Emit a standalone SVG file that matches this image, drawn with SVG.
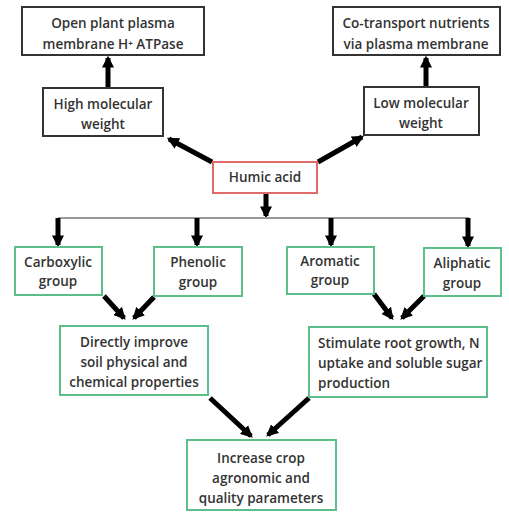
<svg xmlns="http://www.w3.org/2000/svg" width="509" height="512" viewBox="0 0 509 512">
<style>
.bk{fill:#fff;stroke:#333;stroke-width:2}
.gr{fill:#fff;stroke:#5cbf8a;stroke-width:2}
.rd{fill:#fff;stroke:#e06a6a;stroke-width:2}
text{font-family:"Open Sans","Liberation Sans",sans-serif;font-size:13.5px;font-weight:600;fill:#333;text-anchor:middle}
.ar{stroke:#000;stroke-width:5;fill:none;marker-end:url(#ah)}
</style>
<defs>
<marker id="ah" viewBox="0 0 10 10" refX="8" refY="5" markerWidth="2.4" markerHeight="2.4" orient="auto" markerUnits="strokeWidth">
<path d="M0,0 L10,5 L0,10 z" fill="#000"/>
</marker>
</defs>
<rect width="509" height="512" fill="#fff"/>
<g id="connectors">
<line class="ar" x1="108" y1="88" x2="108" y2="58"/>
<line class="ar" x1="426" y1="87" x2="426" y2="58"/>
<line class="ar" x1="212" y1="162" x2="169" y2="139"/>
<line class="ar" x1="318" y1="162" x2="362" y2="137"/>
<line class="ar" x1="266" y1="193" x2="266" y2="216"/>
<line x1="58" y1="218" x2="469" y2="218" stroke="#999" stroke-width="2"/>
<line class="ar" x1="58" y1="218" x2="58" y2="245"/>
<line class="ar" x1="197" y1="218" x2="197" y2="245"/>
<line class="ar" x1="331" y1="218" x2="331" y2="245"/>
<line class="ar" x1="468" y1="218" x2="468" y2="246"/>
<line class="ar" x1="104" y1="296" x2="124" y2="318"/>
<line class="ar" x1="154" y1="297" x2="134" y2="318"/>
<line class="ar" x1="374" y1="294" x2="392" y2="318"/>
<line class="ar" x1="424" y1="296" x2="402" y2="318"/>
<line class="ar" x1="210" y1="398" x2="251" y2="436"/>
<line class="ar" x1="309" y1="398" x2="268" y2="435"/>
</g>
<g id="n1"><rect class="bk" x="22" y="7" width="182" height="48"/><text x="113" y="28">Open plant plasma</text><text x="113" y="49">membrane H⁺ ATPase</text></g>
<g id="n2"><rect class="bk" x="333" y="7" width="167" height="48"/><text x="416" y="28">Co-transport nutrients</text><text x="416" y="49">via plasma membrane</text></g>
<g id="n3"><rect class="bk" x="43" y="88" width="120" height="48"/><text x="103" y="109">High molecular</text><text x="103" y="129">weight</text></g>
<g id="n4"><rect class="bk" x="364" y="87" width="115" height="48"/><text x="421" y="108">Low molecular</text><text x="421" y="128">weight</text></g>
<g id="n5"><rect class="rd" x="213" y="162" width="104" height="31"/><text x="265" y="182">Humic acid</text></g>
<g id="n6"><rect class="gr" x="15" y="247" width="87" height="48"/><text x="58" y="267">Carboxylic</text><text x="58" y="286">group</text></g>
<g id="n7"><rect class="gr" x="154" y="247" width="88" height="49"/><text x="198" y="267">Phenolic</text><text x="198" y="287">group</text></g>
<g id="n8"><rect class="gr" x="287" y="247" width="87" height="47"/><text x="330" y="266">Aromatic</text><text x="330" y="285">group</text></g>
<g id="n9"><rect class="gr" x="424" y="248" width="77" height="48"/><text x="462" y="268">Aliphatic</text><text x="462" y="288">group</text></g>
<g id="n10"><rect class="gr" x="60" y="326" width="148" height="69"/><text x="134" y="347">Directly improve</text><text x="134" y="367">soil physical and</text><text x="134" y="387">chemical properties</text></g>
<g id="n11"><rect class="gr" x="309" y="327" width="178" height="70"/><text x="318" y="348" style="text-anchor:start">Stimulate root growth, N</text><text x="318" y="368" style="text-anchor:start">uptake and soluble sugar</text><text x="318" y="388" style="text-anchor:start">production</text></g>
<g id="n12"><rect class="gr" x="187" y="440" width="149" height="70"/><text x="261" y="463">Increase crop</text><text x="261" y="483">agronomic and</text><text x="261" y="503">quality parameters</text></g>
</svg>
